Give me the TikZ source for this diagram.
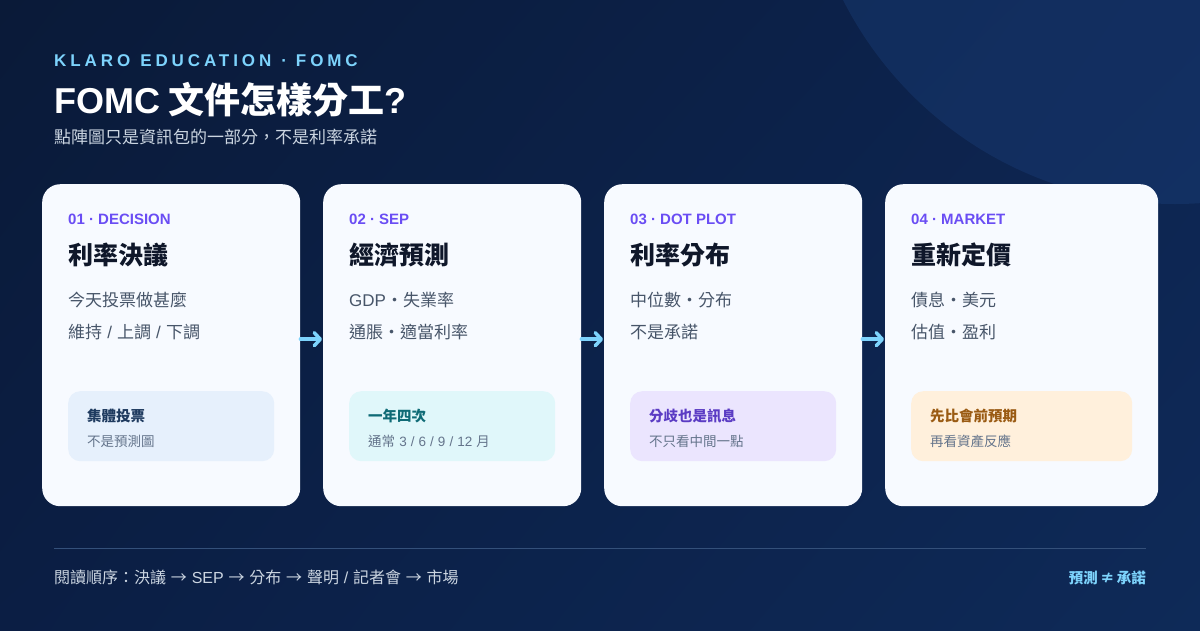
\documentclass[tikz,border=0pt]{standalone}
\usepackage{fontspec}
\setmainfont{Noto Sans CJK TC}
\newfontfamily\lat{Liberation Sans}
\newfontfamily\latsp{Liberation Sans}[LetterSpace=23]
\usetikzlibrary{arrows.meta,shadings}
\definecolor{bgA}{HTML}{0A1A38}
\definecolor{bgB}{HTML}{0D2450}
\definecolor{bgC}{HTML}{0B1E44}
\definecolor{bgD}{HTML}{0E2A58}
\definecolor{circ}{HTML}{1A3F7A}
\definecolor{sky}{HTML}{7DD3FC}
\definecolor{subt}{HTML}{CBD5E1}
\definecolor{cardbg}{HTML}{F7FAFF}
\definecolor{violet}{HTML}{6A4DF4}
\definecolor{ink}{HTML}{0F172A}
\definecolor{slate}{HTML}{475569}
\definecolor{muted}{HTML}{64748B}
\definecolor{boxA}{HTML}{E6F0FC}
\definecolor{boxB}{HTML}{E0F7FA}
\definecolor{boxC}{HTML}{EBE5FE}
\definecolor{boxD}{HTML}{FFF0DC}
\definecolor{titA}{HTML}{1E3A5F}
\definecolor{titB}{HTML}{0F6B76}
\definecolor{titC}{HTML}{5B3CC4}
\definecolor{titD}{HTML}{9A5B13}
\definecolor{rule}{HTML}{34507A}
\newcommand\slsep{\hspace{0.3em}{\lat /}\hspace{0.3em}}
\newcommand\gap{\hspace{0.3em}}
\tikzset{
  card/.style={fill=cardbg, rounded corners=18pt, minimum width=258pt, minimum height=322pt, inner sep=0pt, anchor=north west},
  ibox/.style={rounded corners=12pt, minimum width=206pt, minimum height=70pt, inner sep=0pt, anchor=north west},
  txt/.style={inner sep=0pt, anchor=base west},
  kick/.style={txt, font=\lat\bfseries\fontsize{15}{18}\selectfont, text=violet},
  ctitle/.style={txt, font=\bfseries\fontsize{25}{30}\selectfont, text=ink},
  cline/.style={txt, font=\fontsize{17}{20}\selectfont, text=slate},
  btitle/.style={txt, font=\bfseries\fontsize{14.5}{17}\selectfont},
  bsub/.style={txt, font=\fontsize{13.5}{16}\selectfont, text=muted},
  arr/.style={draw=sky, line width=3.5pt, line cap=round, -{Straight Barb[length=6pt,width=13pt,line width=3.5pt,round]}},
}
\begin{document}
\begin{tikzpicture}[x=1pt,y=-1pt]
\useasboundingbox (0,0) rectangle (1200,630);
\shade[upper left=bgA, upper right=bgB, lower left=bgC, lower right=bgD] (0,0) rectangle (1200,630);
\begin{scope}
\clip (0,0) rectangle (1200,630);
\fill[circ, opacity=0.4] (1175,-168) circle[radius=372pt];
\end{scope}

% header
\node[txt, font=\latsp\bfseries\fontsize{17}{20}\selectfont, text=sky] (kicker) at (54,66) {KLARO\hspace{10pt}EDUCATION\hspace{10pt}·\hspace{9pt}FOMC};
\node[txt, font=\bfseries\fontsize{36}{42}\selectfont, text=white] (title) at (54,113) {{\lat FOMC} 文件怎樣分工{\lat ?}};
\node[txt, font=\fontsize{17}{20}\selectfont, text=subt] (subtitle) at (54,143) {點陣圖只是資訊包的一部分，不是利率承諾};

% cards
\node[card] (c1) at (42,184) {};
\node[card] (c2) at (323,184) {};
\node[card] (c3) at (604,184) {};
\node[card, minimum width=273pt] (c4) at (885,184) {};

% card 1
\node[kick] (k1) at (68,224) {01 · DECISION};
\node[ctitle] (t1) at (68,264) {利率決議};
\node[cline] (l1a) at (68,306) {今天投票做甚麼};
\node[cline] (l1b) at (68,338) {維持\slsep 上調\slsep 下調};
\node[ibox, fill=boxA] (b1) at (68,391) {};
\node[btitle, text=titA] (bt1) at (87,421) {集體投票};
\node[bsub] (bs1) at (87,446) {不是預測圖};

% card 2
\node[kick] (k2) at (349,224) {02 · SEP};
\node[ctitle] (t2) at (349,264) {經濟預測};
\node[cline] (l2a) at (349,306) {{\lat GDP}・失業率};
\node[cline] (l2b) at (349,338) {通脹・適當利率};
\node[ibox, fill=boxB] (b2) at (349,391) {};
\node[btitle, text=titB] (bt2) at (368,421) {一年四次};
\node[bsub] (bs2) at (368,446) {通常\gap{\lat 3}\slsep{\lat 6}\slsep{\lat 9}\slsep{\lat 12}\gap 月};

% card 3
\node[kick] (k3) at (630,224) {03 · DOT PLOT};
\node[ctitle] (t3) at (630,264) {利率分布};
\node[cline] (l3a) at (630,306) {中位數・分布};
\node[cline] (l3b) at (630,338) {不是承諾};
\node[ibox, fill=boxC] (b3) at (630,391) {};
\node[btitle, text=titC] (bt3) at (649,421) {分歧也是訊息};
\node[bsub] (bs3) at (649,446) {不只看中間一點};

% card 4
\node[kick] (k4) at (911,224) {04 · MARKET};
\node[ctitle] (t4) at (911,264) {重新定價};
\node[cline] (l4a) at (911,306) {債息・美元};
\node[cline] (l4b) at (911,338) {估值・盈利};
\node[ibox, fill=boxD, minimum width=221pt] (b4) at (911,391) {};
\node[btitle, text=titD] (bt4) at (930,421) {先比會前預期};
\node[bsub] (bs4) at (930,446) {再看資產反應};

% arrows
\draw[arr] ([yshift=6pt]c1.east) -- ([yshift=6pt,xshift=-1pt]c2.west);
\draw[arr] ([yshift=6pt]c2.east) -- ([yshift=6pt,xshift=-1pt]c3.west);
\draw[arr] ([yshift=6pt]c3.east) -- ([yshift=6pt,xshift=-1pt]c4.west);

% footer
\coordinate (fl) at (54,548);
\coordinate (fr) at (1146,548);
\draw[rule, line width=1pt] (fl) -- (fr);
\node[txt, font=\fontsize{16}{19}\selectfont, text=subt] (foot) at (54,583) {閱讀順序：決議\gap→\gap{\lat SEP}\gap→\gap 分布\gap→\gap 聲明\slsep 記者會\gap→\gap 市場};
\node[inner sep=0pt, anchor=base east, font=\bfseries\fontsize{14.5}{17}\selectfont, text=sky] (motto) at (1146,583) {預測\hspace{0.15em}≠\hspace{0.15em}承諾};
\end{tikzpicture}
\end{document}
